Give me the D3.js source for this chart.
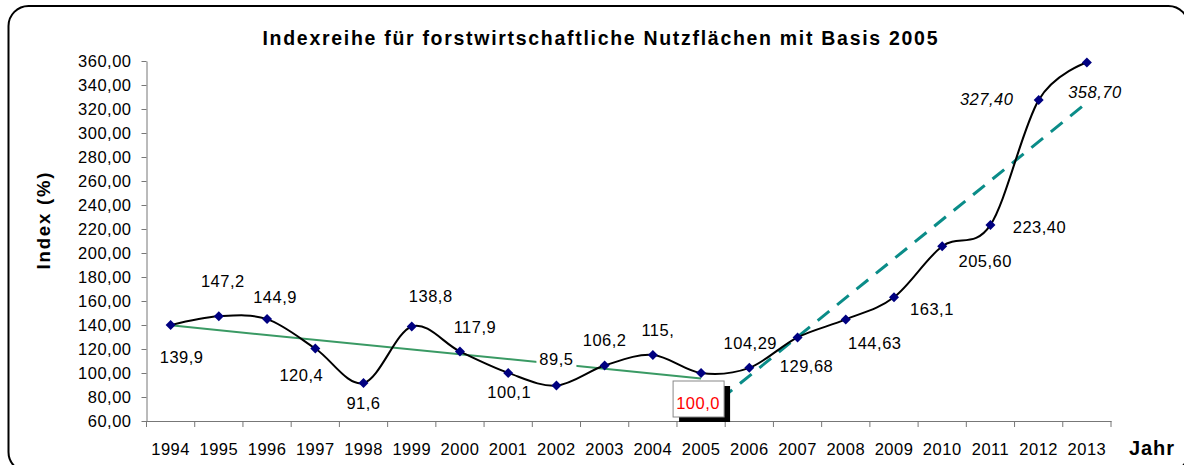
<!DOCTYPE html>
<html>
<head>
<meta charset="utf-8">
<script src="https://cdn.jsdelivr.net/npm/d3@7"></script>
<style>
  body { margin: 0; background: #fff; }
  svg { display: block; font-family: "Liberation Sans", Arial, sans-serif; }
</style>
</head>
<body>
<svg id="chart" width="1184" height="465"></svg>
<script>
// data
var years = ["1994","1995","1996","1997","1998","1999","2000","2001","2002","2003",
             "2004","2005","2006","2007","2008","2009","2010","2011","2012","2013"];
var values = [139.9, 147.2, 144.9, 120.4, 91.6, 138.8, 117.9, 100.1, 89.5, 106.2,
              115.0, 100.0, 104.29, 129.68, 144.63, 163.1, 205.6, 223.4, 327.4, 358.7];
var valueLabels = ["139,9","147,2","144,9","120,4","91,6","138,8","117,9","100,1","89,5","106,2",
                   "115,","100,0","104,29","129,68","144,63","163,1","205,60","223,40","327,40","358,70"];
var trendOldYears = ["1994", "2005"];
var trendOldValues = [139.7, 95.5];
var trendNewYears = ["2005", "2013"];
var trendNewValues = [65.0, 325.3];
var yTicks = [60, 80, 100, 120, 140, 160, 180, 200, 220, 240, 260, 280, 300, 320, 340, 360];

// hand placed label offsets (px from the point), like in the original
var labelOffsets = [[11,32],[4,-35],[8,-22],[-14,27],[0,20],[19,-30],[15,-24],[1,19],[0,-26],[0,-25],
                    [5,-25],[-3,30],[1,-25],[9,29],[29,24],[38,12],[43,15],[49,2],[-52,-1],[8,30]];

var svg = d3.select("#chart");

// frame
svg.append("rect")
  .attr("x", 8.5).attr("y", 6).attr("width", 1180).attr("height", 466)
  .attr("rx", 20).attr("ry", 20)
  .attr("fill", "#fff").attr("stroke", "#000").attr("stroke-width", 2);

var x = d3.scaleBand().domain(years).range([146.5, 1111]).padding(0);
var y = d3.scaleLinear().domain([60, 360]).range([421, 61]);
var cx = function(yr) { return x(yr) + x.bandwidth() / 2; };

// title
svg.append("text")
  .attr("x", 600).attr("y", 45)
  .attr("text-anchor", "middle")
  .attr("font-weight", "bold").attr("font-size", 19.5)
  .attr("textLength", 675).attr("lengthAdjust", "spacing")
  .text("Indexreihe für forstwirtschaftliche Nutzflächen mit Basis 2005");

// y axis
var fmt = function(d) { return d3.format(".2f")(d).replace(".", ","); };
var yAxis = svg.append("g")
  .attr("transform", "translate(146.5,0)")
  .call(d3.axisLeft(y).tickValues(yTicks).tickFormat(fmt).tickSize(5).tickSizeOuter(0).tickPadding(10));
yAxis.selectAll("path, line").attr("stroke", "#777");
yAxis.selectAll("text")
  .attr("font-size", 16.5).attr("fill", "#000")
  .attr("font-family", "Liberation Sans, Arial, sans-serif")
  .attr("letter-spacing", 0.5);

svg.append("text")
  .attr("transform", "translate(50,221) rotate(-90)")
  .attr("text-anchor", "middle")
  .attr("font-weight", "bold").attr("font-size", 18.5)
  .attr("textLength", 97).attr("lengthAdjust", "spacing")
  .text("Index (%)");

// x axis
var xAxis = svg.append("g")
  .attr("transform", "translate(0,421)")
  .call(d3.axisBottom(x).tickSize(0).tickPadding(22));
xAxis.select("path").attr("stroke", "#777");
xAxis.selectAll("text")
  .attr("font-size", 16.5).attr("fill", "#000")
  .attr("font-family", "Liberation Sans, Arial, sans-serif")
  .attr("letter-spacing", 0.5);
svg.append("g").selectAll("line")
  .data(years.concat(["end"]))
  .enter().append("line")
    .attr("x1", function(d) { return d === "end" ? x.range()[1] : x(d); })
    .attr("x2", function(d) { return d === "end" ? x.range()[1] : x(d); })
    .attr("y1", 421).attr("y2", 427)
    .attr("stroke", "#777");

svg.append("text")
  .attr("x", 1129).attr("y", 455)
  .attr("font-weight", "bold").attr("font-size", 20)
  .attr("textLength", 45).attr("lengthAdjust", "spacing")
  .text("Jahr");

// trend lines
var line = d3.line();
svg.append("path")
  .attr("d", line(trendOldYears.map(function(yr, i) { return [cx(yr), y(trendOldValues[i])]; })))
  .attr("fill", "none").attr("stroke", "#3a9a64").attr("stroke-width", 2);
svg.append("path")
  .attr("d", line(trendNewYears.map(function(yr, i) { return [cx(yr), y(trendNewValues[i])]; })))
  .attr("fill", "none").attr("stroke", "#0a8c88").attr("stroke-width", 3)
  .attr("stroke-dasharray", "15,10");

// main smoothed line
var smooth = d3.line().curve(d3.curveCatmullRom.alpha(0))
  .x(function(d, i) { return cx(years[i]); })
  .y(function(d) { return y(d); });
svg.append("path")
  .attr("d", smooth(values))
  .attr("fill", "none").attr("stroke", "#000").attr("stroke-width", 2);

// markers
svg.append("g").selectAll("path")
  .data(values)
  .enter().append("path")
    .attr("d", "M0,-5L5,0L0,5L-5,0Z")
    .attr("transform", function(d, i) { return "translate(" + cx(years[i]) + "," + y(d) + ")"; })
    .attr("fill", "#000080");

// data labels
var labels = svg.append("g");
values.forEach(function(v, i) {
  var lx = cx(years[i]) + labelOffsets[i][0];
  var ly = y(v) + labelOffsets[i][1];
  if (years[i] === "2005") {
    labels.append("rect").attr("x", lx - 19).attr("y", ly - 17)
      .attr("width", 51).attr("height", 36).attr("fill", "#000");
    labels.append("rect").attr("x", lx - 25).attr("y", ly - 22)
      .attr("width", 51).attr("height", 36)
      .attr("fill", "#fff").attr("stroke", "#888").attr("stroke-width", 1);
  }
  if (years[i] === "2002") {
    labels.append("rect").attr("x", lx - 20).attr("y", ly - 9)
      .attr("width", 40).attr("height", 18).attr("fill", "#fff");
  }
  labels.append("text")
    .attr("x", lx).attr("y", ly).attr("dy", "0.35em")
    .attr("text-anchor", "middle")
    .attr("font-size", 16.5).attr("letter-spacing", 0.5)
    .attr("font-style", (years[i] === "2012" || years[i] === "2013") ? "italic" : "normal")
    .attr("fill", years[i] === "2005" ? "#ff0000" : "#000")
    .text(valueLabels[i]);
});
</script>
</body>
</html>
